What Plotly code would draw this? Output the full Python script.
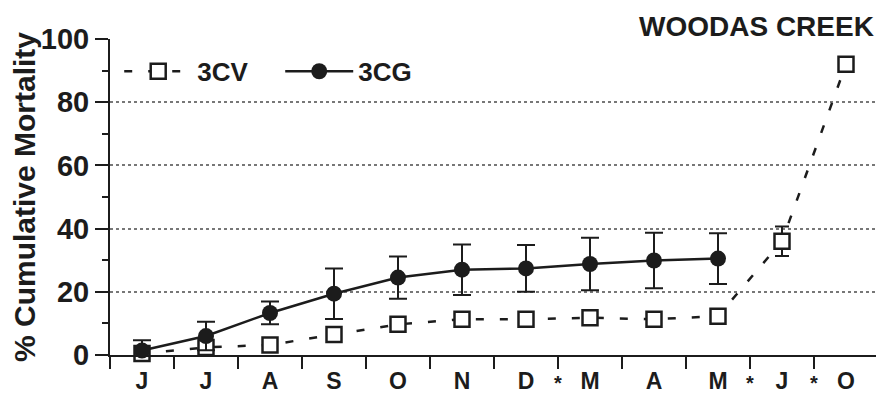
import plotly.graph_objects as go

months = ["J", "J", "A", "S", "O", "N", "D", "M", "A", "M", "J", "O"]
star_positions = [6.5, 9.5, 10.5]

cv_values = [0.5, 2.4, 3.2, 6.5, 9.7, 11.3, 11.3, 11.8, 11.3, 12.3, 36.0, 92.0]
cv_errors = [0, 0, 0, 0, 0, 0, 0, 0, 0, 0, 4.7, 0]

cg_values = [1.4, 6.0, 13.3, 19.4, 24.5, 27.0, 27.4, 28.8, 29.9, 30.5]
cg_errors = [3.3, 4.5, 3.6, 8.0, 6.7, 8.0, 7.4, 8.3, 8.8, 8.0]

y_tickvals = [0, 20, 40, 60, 80, 100]

ink = "#1c1c1c"
FONT = "Liberation Sans"

x_cv = list(range(len(cv_values)))
x_cg = list(range(len(cg_values)))

fig = go.Figure()
fig.add_trace(go.Scatter(
    x=x_cv, y=cv_values, name="3CV", mode="lines+markers",
    line=dict(color=ink, width=2.5, dash="8px,16px"),
    marker=dict(symbol="square", size=15, color="white", line=dict(color=ink, width=2.5)),
    error_y=dict(type="data", array=cv_errors, visible=True, color=ink, thickness=2, width=7),
    cliponaxis=False,
))
fig.add_trace(go.Scatter(
    x=x_cg, y=cg_values, name="3CG", mode="lines+markers",
    line=dict(color=ink, width=2.5),
    marker=dict(symbol="circle", size=16, color=ink),
    error_y=dict(type="data", array=cg_errors, visible=True, color=ink, thickness=2, width=9),
    cliponaxis=False,
))

for sp in star_positions:
    fig.add_annotation(x=sp, y=0, xref="x", yref="paper", yshift=-15, yanchor="top",
                       text="*", showarrow=False,
                       font=dict(family=FONT, size=20, color=ink, weight="bold"))

fig.add_annotation(x=1.0, y=1.0, xref="paper", yref="paper", yshift=30, xshift=-2,
                   xanchor="right", yanchor="top", text="WOODAS CREEK",
                   showarrow=False, font=dict(family=FONT, size=28, color=ink, weight="bold"))

fig.update_layout(
    width=876, height=388,
    margin=dict(l=102, r=6, t=31, b=41, autoexpand=False),
    paper_bgcolor="white", plot_bgcolor="white",
    font=dict(family=FONT, color=ink, weight="bold"),
    showlegend=True,
    legend=dict(orientation="h", x=0.012, y=0.972, xanchor="left", yanchor="top",
                font=dict(family=FONT, size=26, color=ink, weight="bold"),
                bgcolor="rgba(0,0,0,0)", itemwidth=68, entrywidth=78),
    xaxis=dict(
        range=[-0.5, 11.5], tickmode="array", tickvals=list(range(len(months))),
        ticktext=months, ticks="", showgrid=False, zeroline=False, automargin=False,
        showline=True, linecolor=ink, linewidth=2, ticklabelstandoff=4,
        tickfont=dict(family=FONT, size=23, color=ink, weight="bold"),
        minor=dict(tickmode="array", tickvals=[i - 0.5 for i in range(len(months) + 1)],
                   ticks="outside", ticklen=12, tickwidth=2, tickcolor=ink, showgrid=False),
    ),
    yaxis=dict(
        range=[0, 100], tickmode="array", tickvals=y_tickvals, automargin=False,
        ticks="outside", ticklen=13, tickwidth=2, tickcolor=ink,
        showgrid=True, gridcolor="#777", griddash="dot", gridwidth=1.5,
        zeroline=False, showline=True, linecolor=ink, linewidth=2,
        tickfont=dict(family=FONT, size=29, color=ink, weight="bold"),
        minor=dict(dtick=10, tick0=0, ticks="outside", ticklen=6, tickwidth=2,
                   tickcolor=ink, showgrid=False),
        title=dict(text="% Cumulative Mortality", standoff=3,
                   font=dict(family=FONT, size=30, color=ink, weight="bold")),
    ),
)

fig.write_html("out.html")
